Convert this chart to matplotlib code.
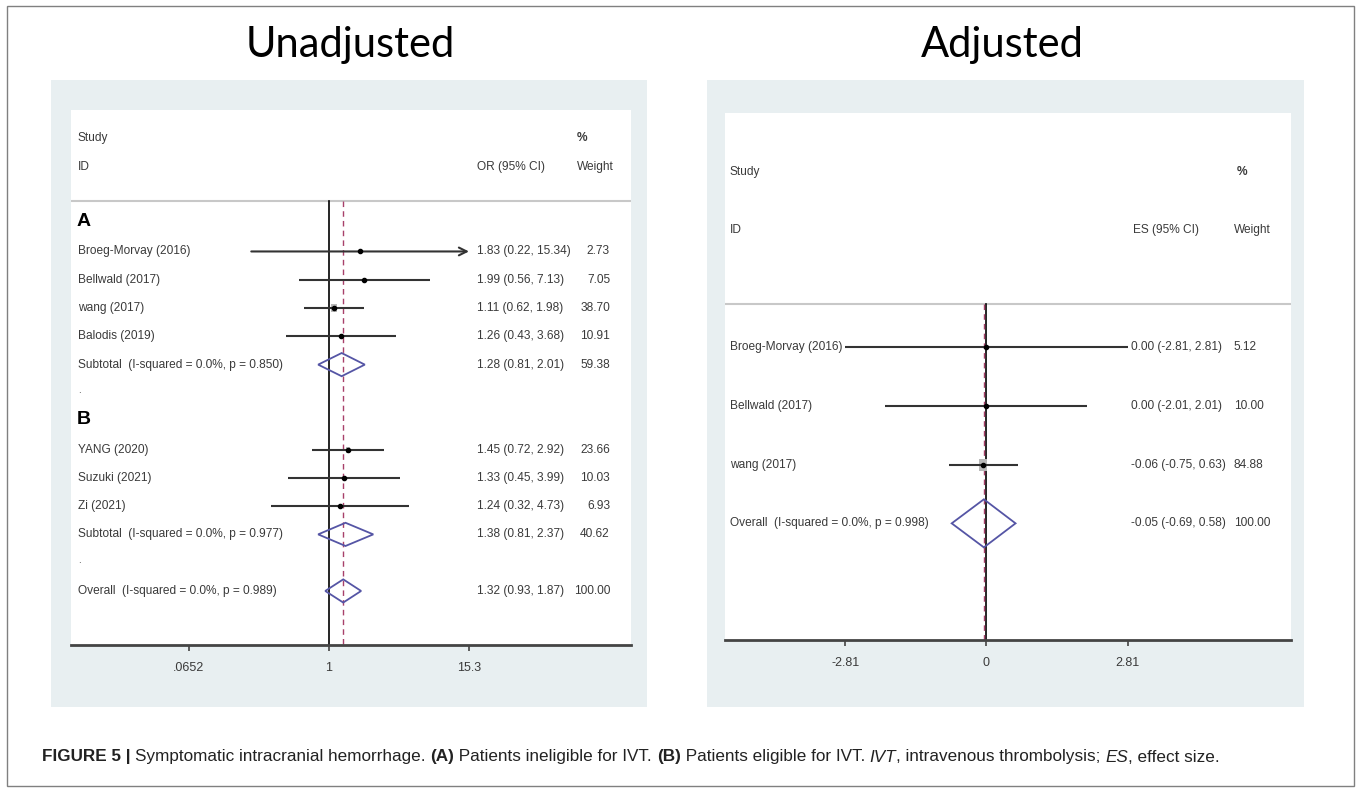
import numpy as np
import matplotlib
matplotlib.use("Agg")
import matplotlib.pyplot as plt
from matplotlib.patches import Rectangle, Polygon
from matplotlib.path import Path
from matplotlib.transforms import blended_transform_factory

W, H, DPI = 1360, 792, 100

# ---- Unadjusted (odds ratio, log scale) ----
una_labels = ["Broeg-Morvay (2016)", "Bellwald (2017)", "wang (2017)", "Balodis (2019)",
              "YANG (2020)", "Suzuki (2021)", "Zi (2021)"]
una_group = ["A", "A", "A", "A", "B", "B", "B"]
una_or = [1.83, 1.99, 1.11, 1.26, 1.45, 1.33, 1.24]
una_lo = [0.22, 0.56, 0.62, 0.43, 0.72, 0.45, 0.32]
una_hi = [15.34, 7.13, 1.98, 3.68, 2.92, 3.99, 4.73]
una_w = [2.73, 7.05, 38.70, 10.91, 23.66, 10.03, 6.93]

una_sub_groups = ["A", "B"]
una_sub_p = ["0.850", "0.977"]
una_sub_or = [1.28, 1.38]
una_sub_lo = [0.81, 0.81]
una_sub_hi = [2.01, 2.37]
una_sub_w = [59.38, 40.62]

una_all = (1.32, 0.93, 1.87, 100.00, "0.989")
una_ticks = [0.0652, 1, 15.3]
una_ticklabels = [".0652", "1", "15.3"]

# ---- Adjusted (effect size, linear scale) ----
adj_labels = ["Broeg-Morvay (2016)", "Bellwald (2017)", "wang (2017)"]
adj_es = [0.00, 0.00, -0.06]
adj_lo = [-2.81, -2.01, -0.75]
adj_hi = [2.81, 2.01, 0.63]
adj_w = [5.12, 10.00, 84.88]

adj_all = (-0.05, -0.69, 0.58, 100.00, "0.998")
adj_ticks = [-2.81, 0, 2.81]
adj_ticklabels = ["-2.81", "0", "2.81"]

FONT = "Liberation Sans"
FS = 8.6
TXT = "#3a3a3a"
DIAM = "#5555a5"
DASH = "#a8406a"
BOX = "#b8b8b8"

fig = plt.figure(figsize=(W / DPI, H / DPI), dpi=DPI)
fig.patch.set_facecolor("white")


def px_axes(x0, y0, x1, y1, **kw):
    return fig.add_axes([x0 / W, 1 - y1 / H, (x1 - x0) / W, (y1 - y0) / H], **kw)


def px_rect(x0, y0, x1, y1, **kw):
    r = Rectangle((x0 / W, 1 - y1 / H), (x1 - x0) / W, (y1 - y0) / H,
                  transform=fig.transFigure, **kw)
    fig.add_artist(r)


# outer frame and panel backgrounds
px_rect(7, 6, 1354, 786, fill=False, edgecolor="#808080", lw=1.0, zorder=0)
px_rect(51, 80, 647, 707, facecolor="#e8eff1", edgecolor="none", zorder=0)
px_rect(707, 80, 1304, 707, facecolor="#e8eff1", edgecolor="none", zorder=0)

fig.text(350 / W, 1 - 45 / H, "Unadjusted", fontsize=30, family="Lato",
         ha="center", va="center", color="black")
fig.text(1002 / W, 1 - 45 / H, "Adjusted", fontsize=30, family="Lato",
         ha="center", va="center", color="black")

rect_marker = Path([(-0.6, -1), (0.6, -1), (0.6, 1), (-0.6, 1), (-0.6, -1)],
                   [Path.MOVETO, Path.LINETO, Path.LINETO, Path.LINETO, Path.CLOSEPOLY])


def style_axes(ax, ticks, ticklabels, ymax):
    ax.set_facecolor("white")
    for s in ["top", "left", "right"]:
        ax.spines[s].set_visible(False)
    ax.spines["bottom"].set_color("#444444")
    ax.spines["bottom"].set_linewidth(2)
    ax.set_yticks([])
    ax.set_ylim(ymax, -4)
    ax.set_xticks(ticks)
    ax.set_xticklabels(ticklabels)
    ax.xaxis.set_minor_locator(matplotlib.ticker.NullLocator())
    ax.tick_params(axis="x", length=4, width=1.2, color="#444444", pad=8,
                   labelsize=FS + 0.4, labelcolor=TXT)
    for t in ax.get_xticklabels():
        t.set_family(FONT)


def row_text(ax, xpx, y, s, **kw):
    tr = blended_transform_factory(fig.transFigure, ax.transData)
    kw.setdefault("family", FONT)
    kw.setdefault("fontsize", FS)
    kw.setdefault("color", TXT)
    kw.setdefault("va", "center")
    ax.text(xpx / W, y, s, transform=tr, clip_on=False, **kw)


def diamond(ax, est, lo, hi, y, h=0.41):
    ax.add_patch(Polygon([(lo, y), (est, y - h), (hi, y), (est, y + h)], closed=True,
                         fill=False, edgecolor=DIAM, lw=1.3, zorder=4))


def study(ax, est, lo, hi, w, y, xmax, xmin):
    size = (1.35 * np.sqrt(w) * 0.72) ** 2
    ax.scatter([est], [y], marker=rect_marker, s=size, color=BOX, zorder=3, lw=0)
    if hi > xmax:
        ax.annotate("", xy=(xmax, y), xytext=(lo, y),
                    arrowprops=dict(arrowstyle="->", color="#333333", lw=1.5,
                                    mutation_scale=14, shrinkA=0, shrinkB=0), zorder=4)
    else:
        ax.plot([max(lo, xmin), hi], [y, y], color="#333333", lw=1.5, zorder=4,
                solid_capstyle="butt")
    ax.plot([est], [y], "o", color="black", ms=3, zorder=5)


# ================= left panel =================
axL = px_axes(71, 110, 631, 645)
axL.set_xscale("log")
axL.set_xlim(np.exp(-5.027), np.exp(5.885))
style_axes(axL, una_ticks, una_ticklabels, 14.91)

row = 0
for g, sub_or, sub_lo, sub_hi, sub_w, sub_p in zip(una_sub_groups, una_sub_or, una_sub_lo,
                                                   una_sub_hi, una_sub_w, una_sub_p):
    row_text(axL, 77, row - 0.05, g, fontsize=14, fontweight="bold", color="black")
    row += 1
    for i, lab in enumerate(una_labels):
        if una_group[i] != g:
            continue
        study(axL, una_or[i], una_lo[i], una_hi[i], una_w[i], row, una_ticks[-1], una_ticks[0])
        row_text(axL, 78, row, lab)
        row_text(axL, 477, row, f"{una_or[i]:.2f} ({una_lo[i]:.2f}, {una_hi[i]:.2f})")
        row_text(axL, 610, row, f"{una_w[i]:.2f}", ha="right")
        row += 1
    diamond(axL, sub_or, sub_lo, sub_hi, row)
    row_text(axL, 78, row, f"Subtotal  (I-squared = 0.0%, p = {sub_p})")
    row_text(axL, 477, row, f"{sub_or:.2f} ({sub_lo:.2f}, {sub_hi:.2f})")
    row_text(axL, 610, row, f"{sub_w:.2f}", ha="right")
    row += 1
    row_text(axL, 78, row - 0.1, ".", fontsize=7)  # blank spacer row
    row += 1
est, lo, hi, w, p = una_all
diamond(axL, est, lo, hi, row)
row_text(axL, 78, row, f"Overall  (I-squared = 0.0%, p = {p})")
row_text(axL, 477, row, f"{est:.2f} ({lo:.2f}, {hi:.2f})")
row_text(axL, 610, row, f"{w:.2f}", ha="right")

axL.axhline(-0.78, color="#c8c8c8", lw=1.5, zorder=1)
axL.plot([1, 1], [-0.78, 14.91], color="black", lw=1.2, zorder=2)
axL.plot([est, est], [-0.78, 14.91], color=DASH, lw=1.0, ls=(0, (4, 3)), zorder=2)

row_text(axL, 78, -3, "Study")
row_text(axL, 78, -2, "ID")
row_text(axL, 477, -2, "OR (95% CI)")
row_text(axL, 577, -3, "%", fontweight="bold")
row_text(axL, 577, -2, "Weight")

# ================= right panel =================
axR = px_axes(725, 113, 1291, 640)
axR.set_xlim(-5.2, 6.06)
style_axes(axR, adj_ticks, adj_ticklabels, 4.99)

for i, lab in enumerate(adj_labels):
    study(axR, adj_es[i], adj_lo[i], adj_hi[i], adj_w[i], i, adj_ticks[-1], adj_ticks[0])
    row_text(axR, 730, i, lab)
    row_text(axR, 1131, i, f"{adj_es[i]:.2f} ({adj_lo[i]:.2f}, {adj_hi[i]:.2f})")
    row_text(axR, 1234, i, f"{adj_w[i]:.2f}")
est, lo, hi, w, p = adj_all
k = len(adj_labels)
diamond(axR, est, lo, hi, k)
row_text(axR, 730, k, f"Overall  (I-squared = 0.0%, p = {p})")
row_text(axR, 1131, k, f"{est:.2f} ({lo:.2f}, {hi:.2f})")
row_text(axR, 1234, k, f"{w:.2f}")

axR.axhline(-0.75, color="#c8c8c8", lw=1.5, zorder=1)
axR.plot([0, 0], [-0.75, 4.99], color="black", lw=1.2, zorder=2)
axR.plot([est, est], [-0.75, 4.99], color=DASH, lw=1.0, ls=(0, (4, 3)), zorder=2)

row_text(axR, 730, -3, "Study")
row_text(axR, 730, -2, "ID")
row_text(axR, 1133, -2, "ES (95% CI)")
row_text(axR, 1237, -3, "%", fontweight="bold")
row_text(axR, 1234, -2, "Weight")

# ================= caption =================
caption = [("FIGURE 5 | ", "bold", "normal"),
           ("Symptomatic intracranial hemorrhage. ", "normal", "normal"),
           ("(A)", "bold", "normal"),
           (" Patients ineligible for IVT. ", "normal", "normal"),
           ("(B)", "bold", "normal"),
           (" Patients eligible for IVT. ", "normal", "normal"),
           ("IVT", "normal", "italic"),
           (", intravenous thrombolysis; ", "normal", "normal"),
           ("ES", "normal", "italic"),
           (", effect size.", "normal", "normal")]
renderer = fig.canvas.get_renderer()
x = 42
for s, wgt, sty in caption:
    t = fig.text(x / W, 1 - 757 / H, s, fontsize=12.3, family=FONT,
                 fontweight=wgt, fontstyle=sty, va="center", ha="left", color="#222222")
    bb = t.get_window_extent(renderer=renderer)
    x += bb.width

fig.savefig("out.png", dpi=DPI)
